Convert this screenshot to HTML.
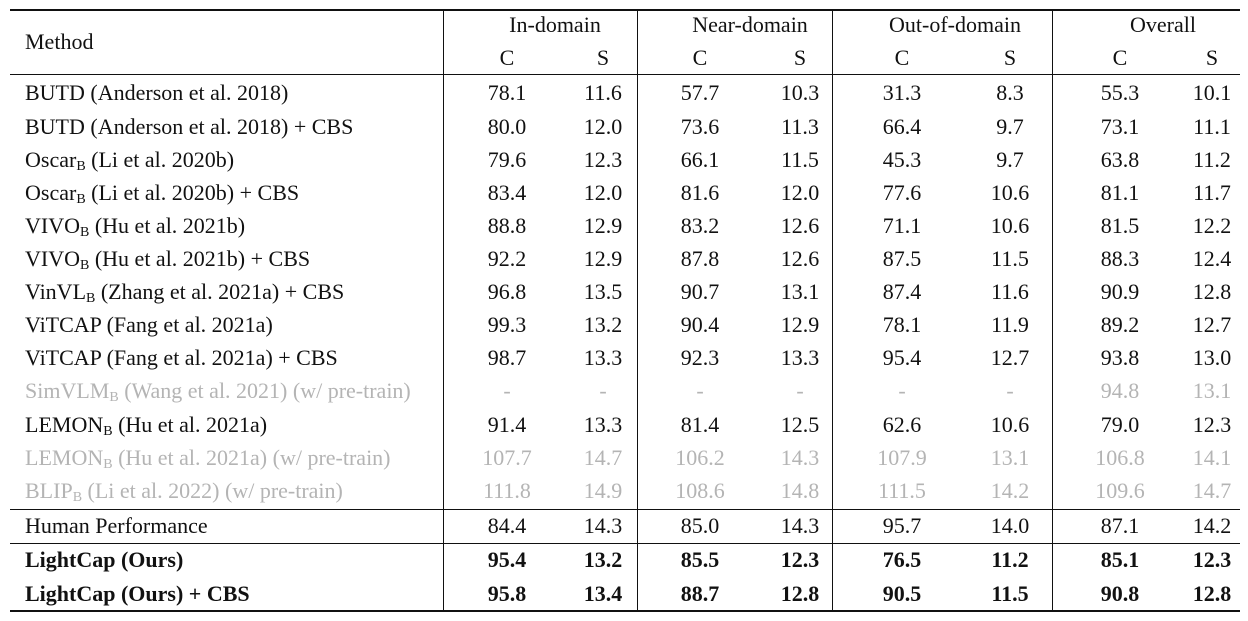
<!DOCTYPE html>
<html><head><meta charset="utf-8">
<style>
body{margin:0;background:#fff;width:1248px;height:621px;overflow:hidden;position:relative;font-family:"Liberation Serif",serif;font-size:22px;color:#111}
.t{position:absolute;white-space:nowrap;line-height:22px}
.c{transform:translateX(-50%)}
.g{color:#b4b4b4}
.b{font-weight:bold}
.h{position:absolute;background:#111;left:10px;width:1230px}
.v{position:absolute;background:#111;width:1.3px}
sub{font-size:14px;vertical-align:-3px;line-height:0}
</style></head><body>
<div id="root"></div>
<script>
const methods=["BUTD (Anderson et al. 2018)","BUTD (Anderson et al. 2018) + CBS","Oscar<sub>B</sub> (Li et al. 2020b)","Oscar<sub>B</sub> (Li et al. 2020b) + CBS","VIVO<sub>B</sub> (Hu et al. 2021b)","VIVO<sub>B</sub> (Hu et al. 2021b) + CBS","VinVL<sub>B</sub> (Zhang et al. 2021a) + CBS","ViTCAP (Fang et al. 2021a)","ViTCAP (Fang et al. 2021a) + CBS","SimVLM<sub>B</sub> (Wang et al. 2021) (w/ pre-train)","LEMON<sub>B</sub> (Hu et al. 2021a)","LEMON<sub>B</sub> (Hu et al. 2021a) (w/ pre-train)","BLIP<sub>B</sub> (Li et al. 2022) (w/ pre-train)","Human Performance","LightCap (Ours)","LightCap (Ours) + CBS"];
const values=[
["78.1","11.6","57.7","10.3","31.3","8.3","55.3","10.1"],
["80.0","12.0","73.6","11.3","66.4","9.7","73.1","11.1"],
["79.6","12.3","66.1","11.5","45.3","9.7","63.8","11.2"],
["83.4","12.0","81.6","12.0","77.6","10.6","81.1","11.7"],
["88.8","12.9","83.2","12.6","71.1","10.6","81.5","12.2"],
["92.2","12.9","87.8","12.6","87.5","11.5","88.3","12.4"],
["96.8","13.5","90.7","13.1","87.4","11.6","90.9","12.8"],
["99.3","13.2","90.4","12.9","78.1","11.9","89.2","12.7"],
["98.7","13.3","92.3","13.3","95.4","12.7","93.8","13.0"],
["-","-","-","-","-","-","94.8","13.1"],
["91.4","13.3","81.4","12.5","62.6","10.6","79.0","12.3"],
["107.7","14.7","106.2","14.3","107.9","13.1","106.8","14.1"],
["111.8","14.9","108.6","14.8","111.5","14.2","109.6","14.7"],
["84.4","14.3","85.0","14.3","95.7","14.0","87.1","14.2"],
["95.4","13.2","85.5","12.3","76.5","11.2","85.1","12.3"],
["95.8","13.4","88.7","12.8","90.5","11.5","90.8","12.8"]];
const gray=[9,11,12], bold=[14,15];
const groups=["In-domain","Near-domain","Out-of-domain","Overall"];
const colX=[507,603,700,800,902,1010,1120,1212];
const groupX=[555,750,955,1163];
const rowY=[93,127,160,193,226,259,292,325,358,391,425,458,491,526,560,594];
const root=document.getElementById('root');
function add(cls,html,x,y,name){const d=document.createElement('div');d.className=cls;d.innerHTML=html;d.style.left=x+'px';d.style.top=(y-11)+'px';


root.appendChild(d);}
function line(cls,x,y,w,h,name){const d=document.createElement('div');d.className=cls;d.style.left=x+'px';d.style.top=y+'px';if(w)d.style.width=w+'px';d.style.height=h+'px';


root.appendChild(d);}
line('h',10,9,0,2,'top-rule');
line('h',10,74,0,1.3,'header-rule');
line('h',10,509,0,1.3,'human-rule');
line('h',10,543,0,1.3,'ours-rule');
line('h',10,610,0,2,'bottom-rule');
[443,637,832,1052].forEach(x=>line('v',x,10,0,600,'column-divider'));
add('t','Method',25,42,'method-header');
groups.forEach((g,i)=>add('t c',g,groupX[i],25,'group-header'));
colX.forEach((x,i)=>add('t c',i%2?'S':'C',x,58,'metric-header'));
methods.forEach((m,r)=>{
  const cls='t'+(gray.includes(r)?' g':'')+(bold.includes(r)?' b':'');
  add(cls,m,25,rowY[r],'method-name');
  values[r].forEach((v,i)=>add(cls+' c',v,colX[i],rowY[r],'score-cell'));
});
</script>
</body></html>
